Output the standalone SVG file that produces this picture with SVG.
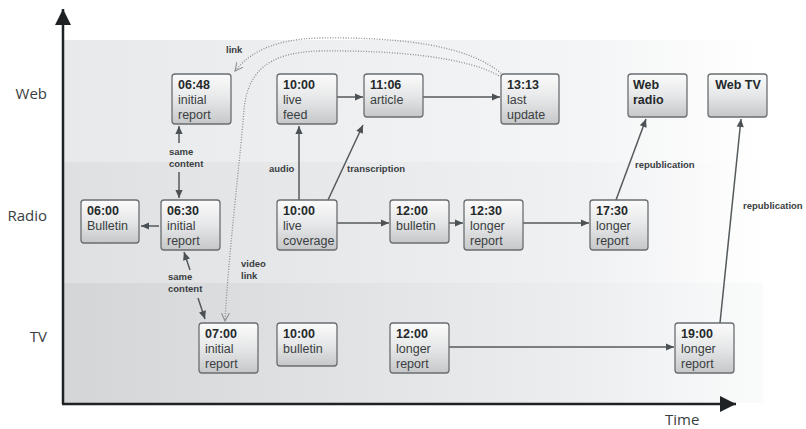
<svg xmlns="http://www.w3.org/2000/svg" width="806" height="429" viewBox="0 0 806 429">
<defs>
<linearGradient id="gWeb" x1="0" y1="0" x2="1" y2="0">
<stop offset="0" stop-color="#e8e9eb"/><stop offset="0.75" stop-color="#f4f5f6"/><stop offset="1" stop-color="#ffffff"/>
</linearGradient>
<linearGradient id="gRadio" x1="0" y1="0" x2="1" y2="0">
<stop offset="0" stop-color="#dfe0e2"/><stop offset="0.75" stop-color="#f0f1f3"/><stop offset="1" stop-color="#ffffff"/>
</linearGradient>
<linearGradient id="gTV" x1="0" y1="0" x2="1" y2="0">
<stop offset="0" stop-color="#d3d5d7"/><stop offset="0.75" stop-color="#eceef0"/><stop offset="1" stop-color="#fafbfb"/>
</linearGradient>
<linearGradient id="gNode" x1="0" y1="0" x2="0" y2="1">
<stop offset="0" stop-color="#fbfbfb"/><stop offset="0.5" stop-color="#e6e7e8"/><stop offset="1" stop-color="#c5c7c9"/>
</linearGradient>
<marker id="ah" viewBox="0 0 10 10" refX="10" refY="5" markerWidth="9" markerHeight="8" orient="auto" markerUnits="userSpaceOnUse">
<path d="M0,0.5 L10,5 L0,9.5 z" fill="#4b5154"/>
</marker>
<marker id="ov" viewBox="0 0 10 10" refX="9" refY="5" markerWidth="9" markerHeight="9" orient="auto" markerUnits="userSpaceOnUse">
<path d="M0,0.5 L9,5 L0,9.5" fill="none" stroke="#8a8d90" stroke-width="1.2"/>
</marker>
<marker id="axh" viewBox="0 0 10 10" refX="10" refY="5" markerWidth="17" markerHeight="16" orient="auto" markerUnits="userSpaceOnUse">
<path d="M0,0 L10,5 L0,10 z" fill="#1e2224"/>
</marker>
</defs>
<style>
.node rect{fill:url(#gNode);stroke:#6a6e71;stroke-width:1.3}
.t{font-family:"Liberation Sans",Arial,sans-serif;font-size:12.5px;fill:#3a3e41}
.b{font-weight:bold;fill:#25292b}
.lab{font-family:"Liberation Sans",Arial,sans-serif;font-size:9.5px;font-weight:bold;fill:#3a3e41}
.ax{font-family:"Open Sans","Liberation Sans",sans-serif;font-size:15px;fill:#3a3e41}
.c{fill:none;stroke:#555a5d;stroke-width:1.5}
.arr{marker-end:url(#ah)}
.dot{fill:none;stroke:#8a8d90;stroke-width:1.3;stroke-dasharray:1 1.6;marker-end:url(#ov)}
</style>
<rect width="806" height="429" fill="#ffffff"/>
<g id="bands">
<rect x="63" y="40" width="700" height="122" fill="url(#gWeb)"/>
<rect x="63" y="162" width="700" height="121" fill="url(#gRadio)"/>
<rect x="63" y="283" width="700" height="120" fill="url(#gTV)"/>
</g>
<g id="axes">
<line x1="63" y1="404" x2="63" y2="9" stroke="#1e2224" stroke-width="2.5" marker-end="url(#axh)"/>
<line x1="62" y1="404" x2="736" y2="404" stroke="#1e2224" stroke-width="2.5" marker-end="url(#axh)"/>
<text class="ax" x="47" y="99" text-anchor="end">Web</text>
<text class="ax" x="47" y="221" text-anchor="end">Radio</text>
<text class="ax" x="47" y="342" text-anchor="end">TV</text>
<text class="ax" x="665" y="425">Time</text>
</g>
<g id="connectors">
<path class="dot" d="M503,75 C470,45 400,37 320,38 C275,39 250,52 235,71"/>
<path class="dot" d="M501,77 C470,58 400,50 320,51 C265,52 247,75 244,110 C240,160 228,260 225,321"/>
<line class="c arr" x1="179" y1="143" x2="179" y2="126"/>
<line class="c arr" x1="179" y1="172" x2="179" y2="198"/>
<line class="c arr" x1="190" y1="270" x2="184" y2="252"/>
<line class="c arr" x1="198" y1="298" x2="205" y2="319"/>
<line class="c arr" x1="159" y1="226" x2="141" y2="226"/>
<line class="c arr" x1="299" y1="200" x2="299" y2="126"/>
<line class="c arr" x1="328" y1="200" x2="363" y2="125"/>
<line class="c arr" x1="337" y1="97" x2="363" y2="97"/>
<line class="c arr" x1="423" y1="97" x2="500" y2="97"/>
<line class="c arr" x1="337" y1="223" x2="389" y2="223"/>
<line class="c arr" x1="449" y1="223" x2="463" y2="223"/>
<line class="c arr" x1="523" y1="223" x2="589" y2="223"/>
<line class="c arr" x1="616" y1="200" x2="646" y2="119"/>
<line class="c arr" x1="720" y1="323" x2="741" y2="119"/>
<line class="c arr" x1="449" y1="347" x2="674" y2="347"/>
<text class="lab" x="226" y="53">link</text>
<text class="lab" x="169" y="155">same</text>
<text class="lab" x="169" y="167">content</text>
<text class="lab" x="168" y="280">same</text>
<text class="lab" x="168" y="292">content</text>
<text class="lab" x="241" y="267">video</text>
<text class="lab" x="241" y="279">link</text>
<text class="lab" x="269" y="172">audio</text>
<text class="lab" x="347" y="172">transcription</text>
<text class="lab" x="635" y="168">republication</text>
<text class="lab" x="743" y="209">republication</text>
</g>
<g id="web-0648" class="node"><rect x="172" y="74" width="59" height="50" rx="3"/><text class="t b" x="178" y="89">06:48</text><text class="t" x="178" y="104">initial</text><text class="t" x="178" y="119">report</text></g>
<g id="web-1000" class="node"><rect x="277" y="74" width="60" height="50" rx="3"/><text class="t b" x="283" y="89">10:00</text><text class="t" x="283" y="104">live</text><text class="t" x="283" y="119">feed</text></g>
<g id="web-1106" class="node"><rect x="364" y="74" width="59" height="43" rx="3"/><text class="t b" x="370" y="89">11:06</text><text class="t" x="370" y="104">article</text></g>
<g id="web-1313" class="node"><rect x="501" y="74" width="58" height="50" rx="3"/><text class="t b" x="507" y="89">13:13</text><text class="t" x="507" y="104">last</text><text class="t" x="507" y="119">update</text></g>
<g id="web-radio" class="node"><rect x="628" y="74" width="59" height="43" rx="3"/><text class="t b" x="633" y="89">Web</text><text class="t b" x="633" y="104">radio</text></g>
<g id="web-tv" class="node"><rect x="708" y="74" width="59" height="43" rx="3"/><text class="t b" x="738" y="89" text-anchor="middle">Web TV</text></g>
<g id="radio-0600" class="node"><rect x="81" y="200" width="58" height="43" rx="3"/><text class="t b" x="87" y="215">06:00</text><text class="t" x="87" y="230">Bulletin</text></g>
<g id="radio-0630" class="node"><rect x="161" y="200" width="59" height="50" rx="3"/><text class="t b" x="167" y="215">06:30</text><text class="t" x="167" y="230">initial</text><text class="t" x="167" y="245">report</text></g>
<g id="radio-1000" class="node"><rect x="277" y="200" width="60" height="50" rx="3"/><text class="t b" x="283" y="215">10:00</text><text class="t" x="283" y="230">live</text><text class="t" x="283" y="245">coverage</text></g>
<g id="radio-1200" class="node"><rect x="390" y="200" width="59" height="43" rx="3"/><text class="t b" x="396" y="215">12:00</text><text class="t" x="396" y="230">bulletin</text></g>
<g id="radio-1230" class="node"><rect x="464" y="200" width="59" height="50" rx="3"/><text class="t b" x="470" y="215">12:30</text><text class="t" x="470" y="230">longer</text><text class="t" x="470" y="245">report</text></g>
<g id="radio-1730" class="node"><rect x="590" y="200" width="58" height="50" rx="3"/><text class="t b" x="596" y="215">17:30</text><text class="t" x="596" y="230">longer</text><text class="t" x="596" y="245">report</text></g>
<g id="tv-0700" class="node"><rect x="199" y="323" width="59" height="50" rx="3"/><text class="t b" x="205" y="338">07:00</text><text class="t" x="205" y="353">initial</text><text class="t" x="205" y="368">report</text></g>
<g id="tv-1000" class="node"><rect x="277" y="323" width="60" height="43" rx="3"/><text class="t b" x="283" y="338">10:00</text><text class="t" x="283" y="353">bulletin</text></g>
<g id="tv-1200" class="node"><rect x="390" y="323" width="59" height="50" rx="3"/><text class="t b" x="396" y="338">12:00</text><text class="t" x="396" y="353">longer</text><text class="t" x="396" y="368">report</text></g>
<g id="tv-1900" class="node"><rect x="675" y="323" width="59" height="50" rx="3"/><text class="t b" x="681" y="338">19:00</text><text class="t" x="681" y="353">longer</text><text class="t" x="681" y="368">report</text></g>
</svg>
